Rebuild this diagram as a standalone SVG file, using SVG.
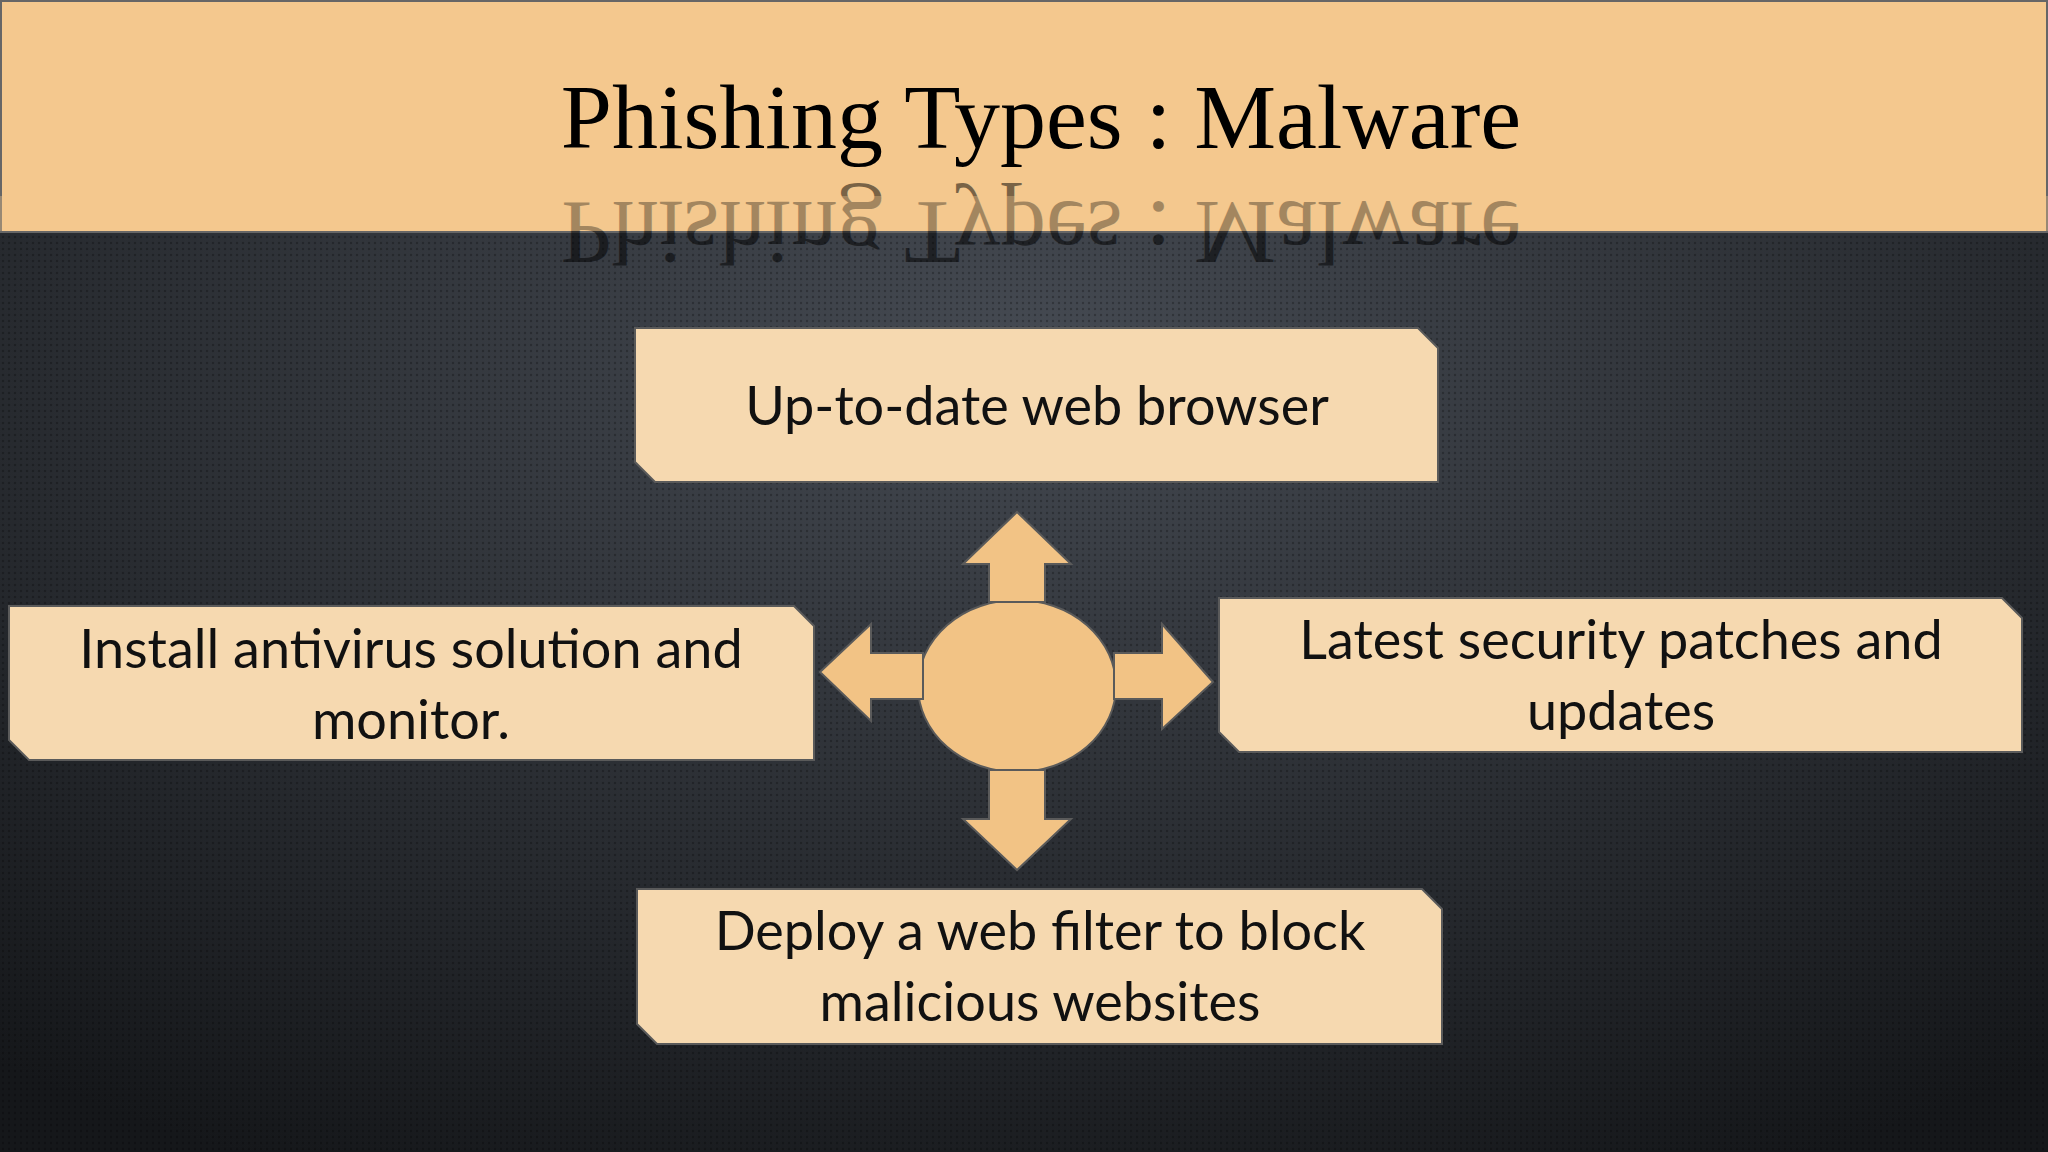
<svg xmlns="http://www.w3.org/2000/svg" width="2048" height="1152" viewBox="0 0 2048 1152">
<defs>
<radialGradient id="bg" cx="0.5" cy="0.3" r="0.8">
<stop offset="0" stop-color="#454a52"/><stop offset="1" stop-color="#15171a"/>
</radialGradient>
<linearGradient id="refl" x1="0" y1="0" x2="0" y2="1">
<stop offset="0" stop-color="#000" stop-opacity="0.05"/><stop offset="1" stop-color="#000" stop-opacity="0.7"/>
</linearGradient>
<pattern id="dots" width="6" height="6" patternUnits="userSpaceOnUse">
<circle cx="3" cy="3" r="1.2" fill="#000" opacity="0.25"/>
</pattern>
</defs>
<style>
.box{fill:#f6d9b0;stroke:#5a5a5a;stroke-width:2}
.arr{fill:#f2c385;stroke:#5a5a5a;stroke-width:2}
.t{font-family:Lato,"Open Sans",sans-serif;font-size:54px;fill:#111;text-anchor:middle}
.title{font-family:"Liberation Serif","DejaVu Serif",serif;font-size:92px;fill:#000;text-anchor:middle}
</style>
<rect width="2048" height="1152" fill="url(#bg)"/>
<rect y="232" width="2048" height="920" fill="url(#dots)"/>
<g id="header">
<rect x="1" y="1" width="2046" height="231" fill="#f4c88e" stroke="#666" stroke-width="2"/>
<text class="title" x="1041" y="148">Phishing Types : Malware</text>
<g transform="translate(0,312) scale(1,-1)" opacity="0.5">
<text class="title" x="1041" y="110" fill="url(#refl)">Phishing Types : Malware</text>
</g>
<rect x="0" y="196" width="2048" height="35" fill="#f4c88e" opacity="0.35"/>
</g>
<g id="connectors">
<ellipse class="arr" cx="1017" cy="686" rx="99" ry="86"/>
<path class="arr" d="M989,602 V564 H963 L1017,512 L1071,564 H1045 V602 Z"/>
<path class="arr" d="M989,770 V819 H963 L1017,870 L1071,819 H1045 V770 Z"/>
<path class="arr" d="M923,653 H871 V624 L820,672 L871,721 V699 H923 Z"/>
<path class="arr" d="M1114,653 H1162 V624 L1213,682 L1162,729 V699 H1114 Z"/>
</g>
<g id="top"><path class="box" d="M635,328 H1418 L1438,348 V482 H655 L635,462 Z"/><text class="t" x="1037" y="425">Up-to-date web browser</text></g>
<g id="left"><path class="box" d="M9,606 H794 L814,626 V760 H29 L9,740 Z"/><text class="t" x="411" y="668">Install antivirus solution and</text><text class="t" x="411" y="739">monitor.</text></g>
<g id="right"><path class="box" d="M1219,598 H2002 L2022,618 V752 H1239 L1219,732 Z"/><text class="t" x="1621" y="659">Latest security patches and</text><text class="t" x="1621" y="730">updates</text></g>
<g id="bottom"><path class="box" d="M637,889 H1422 L1442,909 V1044 H657 L637,1024 Z"/><text class="t" x="1040" y="950">Deploy a web filter to block</text><text class="t" x="1040" y="1021">malicious websites</text></g>
</svg>
